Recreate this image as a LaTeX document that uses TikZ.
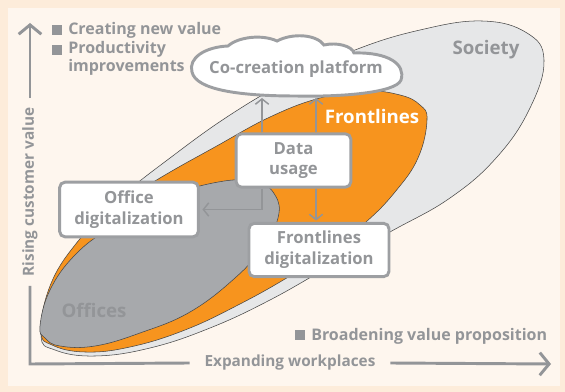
\documentclass[tikz,border=0pt]{standalone}
\usepackage{fontspec}
\setmainfont{Open Sans}
\usetikzlibrary{arrows.meta,positioning,calc}
\definecolor{PanelPeach}{RGB}{253,236,218}
\definecolor{PanelCream}{RGB}{254,246,238}
\definecolor{SocietyGray}{RGB}{230,231,232}
\definecolor{FrontOrange}{RGB}{247,148,30}
\definecolor{OfficeGray}{RGB}{167,169,172}
\definecolor{LabelGray}{RGB}{147,149,152}
\definecolor{FrameGray}{RGB}{157,159,162}
\definecolor{EdgeDark}{RGB}{70,70,70}

\tikzset{
  arealine/.style={draw=EdgeDark,line width=0.4pt},
  stepbox/.style={draw=FrameGray,line width=2.2pt,rounded corners=4pt,fill=white,
    font=\bfseries\fontsize{12.5}{15.5}\selectfont,text=LabelGray,align=center,inner sep=0pt},
  flow/.style={draw=LabelGray,line width=1.3pt,
    -{Straight Barb[length=4pt,width=10pt,line width=1.1pt]}},
  axis/.style={draw=LabelGray,line width=2.2pt},
  axistip/.style={-{Straight Barb[length=7pt,width=17pt,line width=2.2pt]}},
  legend/.style={font=\bfseries\fontsize{12}{13.5}\selectfont,text=LabelGray,align=left,inner sep=0pt},
  axislabel/.style={font=\bfseries\fontsize{11.5}{13.5}\selectfont,text=LabelGray},
  bullet/.style={fill=LabelGray,minimum size=7.5pt,inner sep=0pt},
  arealabel/.style={font=\bfseries\fontsize{14}{16}\selectfont}
}

\begin{document}
\begin{tikzpicture}[x=0.75pt,y=-0.75pt,>=Latex]
  \useasboundingbox (0,0) rectangle (565,392);
  \fill[PanelPeach] (0,0) rectangle (565,392);
  \fill[PanelCream] (8,8) rectangle (560,386);

  % nested areas
  \draw[arealine,fill=SocietyGray] plot[smooth cycle,tension=0.7] coordinates {
    (41,335) (52,285) (80,240) (120,198) (170,158) (230,115) (290,80) (355,50)
    (420,30) (482,21) (527,33) (544,60) (530,108) (497,157) (450,198) (390,232)
    (330,266) (270,300) (210,328) (150,348) (95,356) (55,350)};
  \draw[arealine,fill=FrontOrange] plot[smooth cycle,tension=0.7] coordinates {
    (41,331) (50,286) (75,245) (110,210) (160,178) (215,147) (270,117) (320,98)
    (365,91) (400,95) (420,105) (427,120) (418,158) (395,192) (366,222)
    (330,250) (290,276) (240,304) (185,330) (130,347) (85,352) (52,345)};
  \draw[arealine,fill=OfficeGray] plot[smooth cycle,tension=0.7] coordinates {
    (40,326) (50,290) (75,255) (110,228) (160,200) (213,183) (255,181) (275,195)
    (278,218) (262,248) (235,278) (190,312) (140,333) (95,346) (60,346) (45,338)};

  \node[arealabel,text=LabelGray] (society) at (486,50) {Society};
  \node[arealabel,text=white] (front) at (372,117) {Frontlines};
  \node[arealabel,text=LabelGray] (offices) at (94,310) {Offices};

  % axes
  \coordinate (origin) at (30,364);
  \coordinate (ytip) at (30,23);
  \coordinate (xtip) at (551,364);
  \node[axislabel,rotate=90,inner xsep=7pt] (ylabel) at (30,192) {Rising customer value};
  \node[axislabel,inner xsep=11pt] (xlabel) at (290,363) {Expanding workplaces};
  \draw[axis] (ylabel.west) -- (origin) -- (xlabel.west);
  \draw[axis,axistip] (ylabel.east) -- (ytip);
  \draw[axis,axistip] (xlabel.east) -- (xtip);

  % legend
  \node[bullet] (b1) at (57,30) {};
  \node[legend,anchor=base west] (create) at (68,35) {Creating new value};
  \node[bullet] (b2) at (57,50) {};
  \node[legend,anchor=north west] (prod) at (68,41) {Productivity\\improvements};
  \node[bullet] (b3) at (300,335) {};
  \node[legend,anchor=base west] (broad) at (311,341) {Broadening value proposition};

  % boxes
  \node[stepbox,minimum width=86pt,minimum height=40pt] (usage) at (293.5,160.5) {Data\\usage};
  \node[stepbox,minimum width=104pt,minimum height=41pt] (office) at (129,209.5) {Office\\digitalization};
  \node[stepbox,minimum width=105pt,minimum height=40pt] (frontdig) at (319,250) {Frontlines\\digitalization};

  % links
  \coordinate (cloudbase) at (296,98);
  \draw[flow] ([xshift=-23.6pt]usage.north) -- ([xshift=-23.6pt]usage.north |- cloudbase);
  \draw[flow] ([xshift=16.9pt]usage.north) -- ([xshift=16.9pt]usage.north |- cloudbase);
  \draw[flow] ([xshift=16.9pt]usage.south) -- ([xshift=16.9pt,yshift=1pt]usage.south |- frontdig.north);
  \draw[flow] ([xshift=-23.6pt]usage.south) |- ([xshift=2pt]office.east);

  % platform cloud
  \draw[draw=FrameGray,line width=2.2pt,fill=white]
    (192,72) .. controls (188,58) and (205,47) .. (228,46)
    .. controls (238,37) and (262,34) .. (277,41)
    .. controls (292,33) and (316,34) .. (324,45)
    .. controls (337,42) and (352,46) .. (354,53)
    .. controls (388,52) and (406,64) .. (401,80)
    .. controls (396,93) and (340,97) .. (296,96)
    .. controls (240,96) and (196,90) .. (192,72) -- cycle;
  \node[font=\bfseries\fontsize{12.5}{15}\selectfont,text=LabelGray] (platform) at (296,69) {Co-creation platform};
\end{tikzpicture}
\end{document}
